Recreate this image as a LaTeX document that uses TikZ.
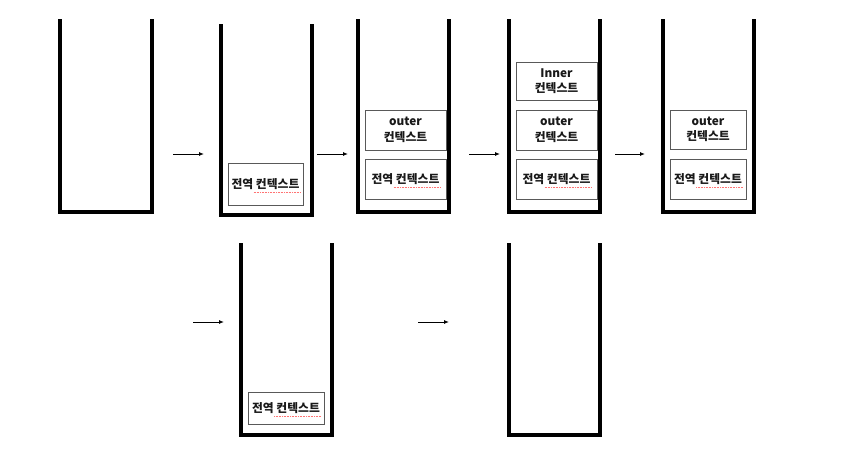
\documentclass[tikz,border=0pt]{standalone}
\usepackage{fontspec}
\newfontfamily\kr{Noto Sans CJK KR}
\usetikzlibrary{arrows.meta,calc}
\tikzset{
  stackwall/.style={line width=4pt, line join=miter, black},
  ctx/.style={draw=black!65, line width=0.8pt, align=center, inner sep=0pt,
    font=\kr\bfseries\fontsize{11.8}{15.5}\selectfont, text=black!90},
  flow/.style={line width=0.9pt, -{Latex[length=5pt,width=4pt]}},
  squig/.style={red!55, line width=0.7pt, dash pattern=on 0.8pt off 0.8pt}
}
\newcommand{\stackbox}[5]{% name, left, right, top, bottom
  \draw[stackwall] (#2,#4) -- (#2,#5) -- (#3,#5) -- (#3,#4);
  \coordinate (#1) at ({(#2+#3)/2},#5);
}
\newcommand{\spell}[1]{% node name of a global box
  \draw[squig] ($(#1.center)+(-12,8)$) -- ($(#1.center)+(35,8)$);
}
\begin{document}
\begin{tikzpicture}[x=1pt,y=-1pt]
\useasboundingbox (0,0) rectangle (855,453);
\fill[white] (0,0) rectangle (855,453);

% containers
\stackbox{s1}{60}{152}{19}{212}
\stackbox{s2}{221}{312}{24}{215}
\stackbox{s3}{358}{449}{19}{212}
\stackbox{s4}{509}{600}{19}{212}
\stackbox{s5}{663}{754}{19}{212}
\stackbox{s6}{241}{332}{243}{435}
\stackbox{s7}{509}{600}{243}{435}

% contexts
\node[ctx, minimum width=75, minimum height=42] (g2) at (265.5,184) {전역 컨텍스트};
\node[ctx, minimum width=81, minimum height=40] (o3) at (405.5,130) {outer\\컨텍스트};
\node[ctx, minimum width=81, minimum height=40] (g3) at (405.5,179) {전역 컨텍스트};
\node[ctx, minimum width=81, minimum height=38] (i4) at (556.5,81) {Inner\\컨텍스트};
\node[ctx, minimum width=81, minimum height=40] (o4) at (556.5,130) {outer\\컨텍스트};
\node[ctx, minimum width=81, minimum height=40] (g4) at (556.5,179) {전역 컨텍스트};
\node[ctx, minimum width=76, minimum height=39] (o5) at (708,129.5) {outer\\컨텍스트};
\node[ctx, minimum width=76, minimum height=40] (g5) at (708,179) {전역 컨텍스트};
\node[ctx, minimum width=76, minimum height=32] (g6) at (286,408) {전역 컨텍스트};

\spell{g2}\spell{g3}\spell{g4}\spell{g5}\spell{g6}

% arrows
\coordinate (a1s) at (173,154); \coordinate (a1e) at (204,154);
\coordinate (a2s) at (317,154); \coordinate (a2e) at (348,154);
\coordinate (a3s) at (469,154); \coordinate (a3e) at (500,154);
\coordinate (a4s) at (615,154); \coordinate (a4e) at (645,154);
\coordinate (a5s) at (193,322); \coordinate (a5e) at (224,322);
\coordinate (a6s) at (418,322); \coordinate (a6e) at (449,322);
\draw[flow] (a1s) -- (a1e);
\draw[flow] (a2s) -- (a2e);
\draw[flow] (a3s) -- (a3e);
\draw[flow] (a4s) -- (a4e);
\draw[flow] (a5s) -- (a5e);
\draw[flow] (a6s) -- (a6e);
\end{tikzpicture}
\end{document}
